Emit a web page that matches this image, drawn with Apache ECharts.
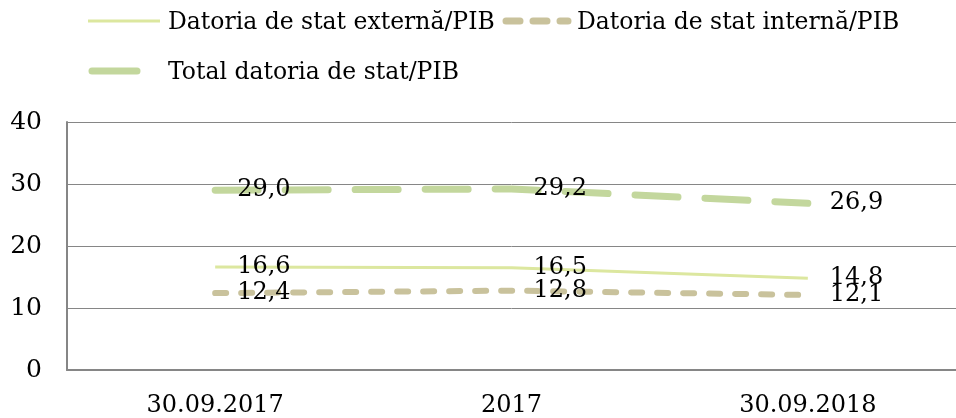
<!DOCTYPE html>
<html>
<head>
<meta charset="utf-8">
<script src="https://cdn.jsdelivr.net/npm/echarts@6/dist/echarts.min.js"></script>
<style>
  html, body { margin: 0; padding: 0; background: #fff; }
  #main { width: 956px; height: 418px; }
</style>
</head>
<body>
<div id="main"></div>
<script>
// date
var categories = ['30.09.2017', '2017', '30.09.2018'];
var externa = [16.6, 16.5, 14.8];
var interna = [12.4, 12.8, 12.1];
var total = [29.0, 29.2, 26.9];
var yTicks = [0, 10, 20, 30, 40];
var names = ['Datoria de stat externă/PIB', 'Datoria de stat internă/PIB', 'Total datoria de stat/PIB'];

var FONT = 'DejaVu Serif';
var C_EXT = '#dce79f', C_INT = '#c9c29c', C_TOT = '#c3d79d';

var myChart = echarts.init(document.getElementById('main'));

function lbl(p) {
  return p.value.toFixed(1).replace('.', ',');
}

var labelCfg = {
  show: true,
  position: 'right',
  distance: 22,
  color: '#000',
  fontFamily: FONT,
  fontSize: 24,
  formatter: lbl
};

// cate o legenda pentru fiecare serie; simbolurile sunt desenate cu graphic
function leg(name, left, top) {
  return {
    data: [name],
    left: left,
    top: top,
    itemWidth: 72,
    itemHeight: 8,
    icon: 'rect',
    itemStyle: { opacity: 0 },
    textStyle: { fontFamily: FONT, fontSize: 23.5, color: '#000' }
  };
}

var option = {
  animation: false,
  textStyle: { fontFamily: FONT },
  legend: [leg(names[0], 86, 6), leg(names[1], 495, 6), leg(names[2], 86, 56)],
  graphic: [
    { type: 'line', shape: { x1: 88, y1: 21, x2: 160, y2: 21 },
      style: { stroke: C_EXT, lineWidth: 3 } },
    { type: 'line', shape: { x1: 506, y1: 21, x2: 568, y2: 21 },
      style: { stroke: C_INT, lineWidth: 7, lineDash: [14, 13], lineCap: 'round' } },
    { type: 'line', shape: { x1: 92, y1: 71, x2: 137, y2: 71 },
      style: { stroke: C_TOT, lineWidth: 7, lineCap: 'round' } }
  ],
  grid: {
    left: 67,
    right: 0,
    top: 122,
    bottom: 48
  },
  xAxis: {
    type: 'category',
    data: categories,
    axisTick: { show: false },
    axisLine: { lineStyle: { color: '#868686', width: 2 } },
    axisLabel: { color: '#000', fontFamily: FONT, fontSize: 24, margin: 24 }
  },
  yAxis: {
    type: 'value',
    min: yTicks[0],
    max: yTicks[yTicks.length - 1],
    interval: 10,
    axisLine: { show: true, lineStyle: { color: '#868686', width: 2 } },
    axisTick: { show: false },
    splitLine: { lineStyle: { color: '#868686', width: 1 } },
    axisLabel: { color: '#000', fontFamily: FONT, fontSize: 25, margin: 25 }
  },
  series: [{
    name: names[0],
    type: 'line',
    data: externa,
    symbol: 'circle',
    symbolSize: 0,
    lineStyle: { color: C_EXT, width: 3 },
    itemStyle: { color: C_EXT },
    label: labelCfg,
    z: 3
  }, {
    name: names[1],
    type: 'line',
    data: interna,
    symbol: 'circle',
    symbolSize: 0,
    lineStyle: { color: C_INT, width: 6, type: [11, 15], cap: 'round' },
    itemStyle: { color: C_INT },
    label: labelCfg,
    z: 2
  }, {
    name: names[2],
    type: 'line',
    data: total,
    symbol: 'circle',
    symbolSize: 0,
    lineStyle: { color: C_TOT, width: 7, type: [43, 27], cap: 'round' },
    itemStyle: { color: C_TOT },
    label: labelCfg,
    z: 2
  }]
};

myChart.setOption(option);
window.onresize = function () {
  myChart.resize();
};
</script>
</body>
</html>
